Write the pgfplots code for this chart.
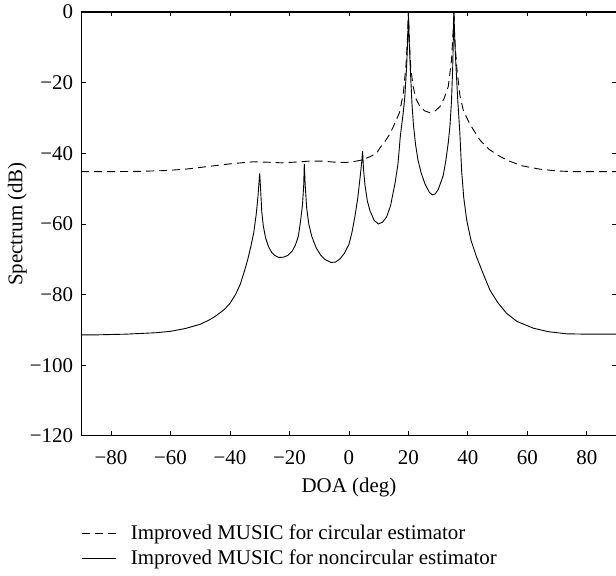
\documentclass[border=0pt]{standalone}
\usepackage{fontspec}
\setmainfont{Liberation Serif}
\usepackage{pgfplots}
\pgfplotsset{compat=1.18}
\usetikzlibrary{calc}

\pgfplotstableread{
x y
-90 -91.4
-85 -91.4
-80 -91.3
-75 -91.2
-70 -91.0
-65 -90.8
-60 -90.4
-55 -89.6
-50 -88.4
-47 -87.2
-45 -86.2
-42 -84.3
-40 -82.5
-38 -79.8
-36.5 -77.0
-35 -73.0
-34 -70.0
-33 -66.5
-32 -62.5
-31.2 -57.5
-30.6 -52.5
-30.3 -49
-30 -45.7
-29.7 -50
-29.3 -56.5
-28.8 -60.5
-28 -64.0
-27 -66.5
-26 -68.0
-25 -68.9
-23.5 -69.5
-22 -69.4
-20.5 -68.9
-19 -67.6
-18 -66.0
-17 -63.5
-16.3 -59.5
-15.6 -54.5
-15.2 -49
-15 -43.0
-14.7 -49
-14.2 -55.5
-13.5 -60.0
-12.5 -63.5
-11 -66.8
-9.5 -68.8
-8 -70.1
-6 -70.9
-4.5 -70.8
-3 -69.9
-1.5 -68.3
0 -65.8
1 -62.5
2 -58.0
3 -52.5
3.8 -46.5
4.3 -42.5
4.6 -39.3
4.9 -44.5
5.4 -49.0
6.2 -53.5
7.1 -56.3
8.5 -59.0
9.9 -60.0
11.3 -59.5
12.7 -58.0
14 -54.8
15.5 -48.5
16.5 -43
17.3 -35
18.2 -29
18.8 -24
19.4 -15.5
19.8 -7
20 0
20.3 -9
20.7 -17
21.2 -26
21.7 -32
22.4 -37.5
23.2 -41.8
24.2 -45.3
25.5 -48.5
27 -51.0
28 -51.8
29 -51.5
30 -50.3
31 -48
31.7 -46.3
32.6 -42
33.4 -37
34 -32
34.5 -25
34.9 -15.5
35.3 0
35.6 -8
36.0 -15.5
36.6 -25
37.3 -34.3
37.9 -45
38.6 -52.5
39.6 -58.9
41 -64.5
42.9 -69.3
45 -73.8
47.4 -78.7
50 -82.2
53 -85.3
56.5 -87.6
62 -89.5
67 -90.5
73.2 -91.1
80 -91.2
90 -91.2
}\noncirc

\pgfplotstableread{
x y
-90 -45.2
-80 -45.2
-70 -45.1
-62 -44.9
-55 -44.5
-50 -44.0
-45 -43.5
-40 -43.0
-35 -42.6
-32 -42.4
-28 -42.5
-22.5 -42.7
-18 -42.5
-13 -42.2
-9 -42.2
-5 -42.5
-1 -42.6
2 -42.3
4.3 -41.9
7 -41.0
9.3 -40.0
10.4 -38.5
12 -36.8
13.8 -34.5
14.9 -32.5
17 -28.5
18.3 -23
19.2 -15
19.7 -7
20 0
20.3 -8
20.8 -16
21.6 -21.1
22.5 -24.5
23.9 -26.8
25.5 -28.0
27.2 -28.5
29 -28.0
30.6 -26.8
32 -24.5
33.4 -21.1
34.5 -13.6
35 -6
35.3 0
35.6 -8
36.3 -16
37.3 -23.5
38.5 -28
40.7 -31.8
44 -36.2
47 -38.8
50 -40.5
53 -41.9
58 -43.5
64.2 -44.5
70 -45.0
75.4 -45.2
90 -45.2
}\circ

\begin{document}
\fontsize{21}{25}\selectfont
\begin{tikzpicture}[font=\fontsize{21}{25}\selectfont]
\begin{axis}[
    name=ax,
    scale only axis,
    width=535.5bp,
    height=424bp,
    xmin=-90, xmax=90,
    ymin=-120, ymax=0,
    xtick={-80,-60,-40,-20,0,20,40,60,80},
    xticklabels={−80,−60,−40,−20,0,20,40,60,80},
    ytick={-120,-100,-80,-60,-40,-20,0},
    yticklabels={−120,−100,−80,−60,−40,−20,0},
    tick label style={font=\fontsize{21}{25}\selectfont},
    label style={font=\fontsize{21}{25}\selectfont},
    xticklabel style={yshift=-8bp},
    yticklabel style={xshift=-1bp},
    tick align=inside,
    major tick length=4.5bp,
    every tick/.style={black, line width=0.8bp},
    axis line style={line width=1.2bp},
    xlabel={DOA (deg)},
    ylabel={Spectrum (dB)},
    xlabel style={at={(axis description cs:0.5,-0.1226)}, anchor=center},
    ylabel style={at={(axis description cs:-0.1195,0.5)}, anchor=center},
    legend cell align=left,
    legend image code/.code={\draw[#1] (0bp,0bp) -- (34bp,0bp);},
    legend style={draw=none, fill=none, at={(axis description cs:0,0)},
        anchor=north west, yshift=-87bp, xshift=0bp, row sep=4bp, column sep=13bp,
        inner sep=0pt, nodes={inner sep=1.5bp, font=\fontsize{21}{25}\selectfont}},
]
\addplot[black, line width=0.9bp, dash pattern=on 8bp off 5bp] table {\circ};
\addplot[black, line width=0.9bp] table {\noncirc};
\legend{Improved MUSIC for circular estimator, Improved MUSIC for noncircular estimator}
\end{axis}
\pgfresetboundingbox
\path[use as bounding box] ($(ax.south west)+(-81.25bp,-140bp)$) rectangle ($(ax.north east)+(-0.6bp,12bp)$);
\end{tikzpicture}
\end{document}
